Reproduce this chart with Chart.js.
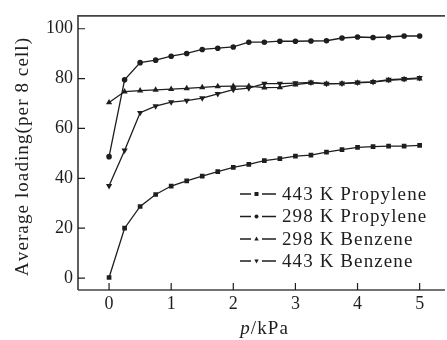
<!DOCTYPE html>
<html>
<head>
<meta charset="utf-8">
<script src="https://cdn.jsdelivr.net/npm/chart.js@4.4.1/dist/chart.umd.min.js"></script>
<style>
  html, body { margin: 0; padding: 0; background: #fff; }
  #wrap { width: 447px; height: 340px; position: relative; }
</style>
</head>
<body>
<div id="wrap"><canvas id="c"></canvas></div>
<script>
// ── Data ──
const pressure = [0, 0.25, 0.5, 0.75, 1, 1.25, 1.5, 1.75, 2, 2.25, 2.5, 2.75, 3, 3.25, 3.5, 3.75, 4, 4.25, 4.5, 4.75, 5];
const prop443 = [0.2, 20.0, 28.7, 33.5, 36.9, 39.0, 40.9, 42.7, 44.4, 45.6, 47.1, 47.9, 48.9, 49.3, 50.5, 51.5, 52.4, 52.7, 52.9, 52.9, 53.2];
const prop298 = [48.7, 79.5, 86.4, 87.4, 89.0, 90.1, 91.7, 92.2, 92.7, 94.6, 94.6, 95.0, 95.0, 95.1, 95.2, 96.3, 96.7, 96.5, 96.7, 97.1, 97.1];
const benz298 = [70.4, 74.8, 75.2, 75.5, 75.8, 76.1, 76.5, 76.9, 77.0, 77.0, 76.4, 76.5, 77.6, 78.3, 77.9, 78.0, 78.3, 78.6, 79.3, 79.7, 80.0];
const benz443 = [37.0, 51.2, 66.3, 69.0, 70.6, 71.2, 72.2, 73.9, 75.6, 76.2, 78.0, 78.0, 78.2, 78.5, 78.0, 78.1, 78.5, 78.7, 79.6, 79.9, 80.3];
const seriesNames = ['443 K Propylene', '298 K Propylene', '298 K Benzene', '443 K Benzene'];
const xTickVals = [0, 1, 2, 3, 4, 5];
const yTickVals = [0, 20, 40, 60, 80, 100];
const yTitle = 'Average loading(per 8 cell)';

const ink = '#1e1e1e';
const serif = '"Liberation Serif", "DejaVu Serif", serif';
const FONT = '19px ' + serif;
const GAP = 1.1;

function pts(ys) { return ys.map((y, i) => ({ x: pressure[i], y })); }

function ds(label, ys, style, r, rot) {
  return {
    label, data: pts(ys), borderColor: ink, backgroundColor: ink, borderWidth: 1.3,
    pointStyle: style, pointRadius: r, pointRotation: rot || 0, pointBorderWidth: 0,
    pointBackgroundColor: ink, tension: 0, fill: false
  };
}

function drawMark(ctx, style, rot, x, y, r) {
  ctx.save();
  ctx.fillStyle = ink;
  ctx.translate(x, y);
  ctx.rotate((rot || 0) * Math.PI / 180);
  ctx.beginPath();
  if (style === 'rect') ctx.rect(-r, -r, 2 * r, 2 * r);
  else if (style === 'circle') ctx.arc(0, 0, r, 0, Math.PI * 2);
  else { ctx.moveTo(0, -r * 1.2); ctx.lineTo(r * 1.1, r * 0.8); ctx.lineTo(-r * 1.1, r * 0.8); ctx.closePath(); }
  ctx.fill();
  ctx.restore();
}

// text with a little extra tracking, char by char
function spacedWidth(ctx, s) {
  let w = 0;
  for (const ch of s) w += ctx.measureText(ch).width + GAP;
  return w - GAP;
}
function spacedText(ctx, s, x, y) {
  for (const ch of s) { ctx.fillText(ch, x, y); x += ctx.measureText(ch).width + GAP; }
  return x;
}

// ── Frame, inward ticks, titles, legend ──
const frame = {
  id: 'frame',
  afterDraw(chart) {
    const { ctx, chartArea: a, scales } = chart;
    ctx.save();
    ctx.strokeStyle = '#444';
    ctx.lineWidth = 1.7;
    ctx.beginPath();
    ctx.moveTo(a.left, a.bottom); ctx.lineTo(a.left, a.top); ctx.lineTo(a.right + 2, a.top);
    ctx.moveTo(a.left, a.bottom); ctx.lineTo(a.right + 2, a.bottom);
    ctx.stroke();
    ctx.strokeStyle = ink;
    ctx.lineWidth = 1.2;
    ctx.beginPath();
    xTickVals.forEach(v => { const x = scales.x.getPixelForValue(v); ctx.moveTo(x, a.bottom); ctx.lineTo(x, a.bottom - 7); });
    yTickVals.forEach(v => { const y = scales.y.getPixelForValue(v); ctx.moveTo(a.left, y); ctx.lineTo(a.left + 7, y); });
    ctx.stroke();

    ctx.fillStyle = ink;
    ctx.textAlign = 'left';

    // y title
    ctx.save();
    ctx.font = FONT;
    ctx.translate(23, 157);
    ctx.rotate(-Math.PI / 2);
    ctx.textBaseline = 'middle';
    spacedText(ctx, yTitle, -spacedWidth(ctx, yTitle) / 2, 0);
    ctx.restore();

    // x title with italic p
    ctx.textBaseline = 'alphabetic';
    ctx.font = 'italic ' + FONT;
    const w1 = ctx.measureText('p').width + GAP;
    ctx.font = FONT;
    const w2 = spacedWidth(ctx, '/kPa');
    const x0 = 264 - (w1 + w2) / 2, by = 334;
    ctx.font = 'italic ' + FONT;
    ctx.fillText('p', x0, by);
    ctx.font = FONT;
    spacedText(ctx, '/kPa', x0 + w1, by);

    // legend inside plot
    const rowY = [194, 216.5, 239, 261];
    chart.data.datasets.forEach((d, i) => {
      const y = rowY[i];
      ctx.strokeStyle = ink; ctx.lineWidth = 1.3;
      ctx.beginPath();
      ctx.moveTo(240, y); ctx.lineTo(251, y);
      ctx.moveTo(262, y); ctx.lineTo(276, y);
      ctx.stroke();
      drawMark(ctx, d.pointStyle, d.pointRotation, 256.5, y, 2);
      ctx.fillStyle = ink;
      ctx.font = FONT;
      ctx.textBaseline = 'middle';
      spacedText(ctx, seriesNames[i], 282, y + 1);
    });
    ctx.restore();
  }
};

new Chart(document.getElementById('c'), {
  type: 'line',
  data: {
    datasets: [
      ds(seriesNames[0], prop443, 'rect', 3.3),
      ds(seriesNames[1], prop298, 'circle', 2.8),
      ds(seriesNames[2], benz298, 'triangle', 3.6),
      ds(seriesNames[3], benz443, 'triangle', 3.6, 180)
    ]
  },
  options: {
    responsive: true, maintainAspectRatio: false, animation: false,
    layout: { padding: { top: 13, right: 0, left: 0, bottom: 0 } },
    plugins: { legend: { display: false }, tooltip: { enabled: false } },
    scales: {
      x: {
        type: 'linear', min: -0.5, max: 5.376,
        afterBuildTicks: s => { s.ticks = xTickVals.map(v => ({ value: v })); },
        afterFit: s => { s.height = 50; },
        grid: { display: false, drawTicks: false },
        border: { display: false },
        ticks: { color: ink, font: { family: serif, size: 18 }, padding: 3, maxRotation: 0 }
      },
      y: {
        min: -4.8, max: 105.2,
        afterBuildTicks: s => { s.ticks = yTickVals.map(v => ({ value: v })); },
        afterFit: s => { s.width = 78; },
        grid: { display: false, drawTicks: false },
        border: { display: false },
        ticks: { color: ink, font: { family: serif, size: 18 }, padding: 5 }
      }
    }
  },
  plugins: [frame]
});
</script>
</body>
</html>
